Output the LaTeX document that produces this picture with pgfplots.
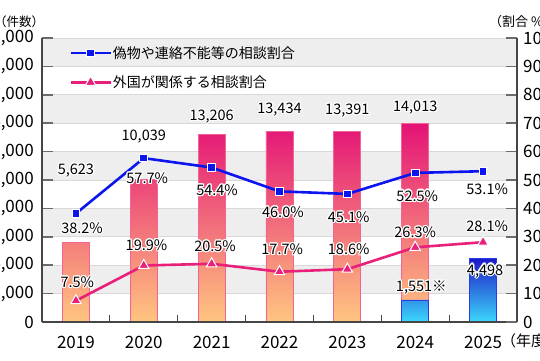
\documentclass[border=0pt]{standalone}
\usepackage{fontspec}
\setmainfont{Noto Sans CJK JP}
\usepackage{pgfplots}
\pgfplotsset{compat=1.18}
\usepackage[copies]{contour}
\contourlength{1.2pt}
\definecolor{pinkline}{RGB}{232,32,122}
\definecolor{blueline}{RGB}{12,20,240}
\definecolor{pinktop}{RGB}{228,18,118}
\definecolor{pinkbot}{RGB}{255,198,128}
\definecolor{pinkedge}{RGB}{242,100,150}
\definecolor{bluetop}{RGB}{30,25,200}
\definecolor{bluebot}{RGB}{60,215,250}
\definecolor{blueedge}{RGB}{40,60,230}
\definecolor{band}{RGB}{238,238,238}
\definecolor{bandline}{RGB}{216,216,216}
\definecolor{axisgray}{RGB}{70,70,70}
\newcommand{\tickfont}{\fontsize{17}{17}\selectfont}
\newcommand{\lblfont}{\fontsize{14.5}{14.5}\selectfont}
\newcommand{\legfont}{\fontsize{14}{14}\selectfont}
\newcommand{\lab}[1]{\contour{white}{#1}}
\begin{document}
\begin{tikzpicture}
\begin{axis}[
  at={(42pt,38pt)}, anchor=south west,
  scale only axis, width=475pt, height=284pt,
  xmin=-0.5, xmax=6.5, ymin=0, ymax=20000,
  axis x line*=bottom, axis y line*=left,
  axis line style={-, draw=axisgray, line width=1.6pt},
  axis on top,
  clip=false,
  ytick={0,2000,...,20000},
  scaled y ticks=false,
  yticklabel style={/pgf/number format/1000 sep={,}, anchor=east, inner sep=0pt, xshift=-8pt},
  /pgf/number format/assume math mode=true,
  xtick={0,...,6}, xticklabels={2019,2020,2021,2022,2023,2024,2025},
  minor xtick={0.5,1.5,...,5.5},
  xticklabel style={anchor=base, inner sep=0pt, yshift=-26pt},
  tick align=inside,
  major tick length=11pt, minor tick length=7pt,
  major x tick style={draw=none},
  minor x tick style={draw=axisgray, line width=1pt},
  major y tick style={draw=axisgray!80, line width=1.6pt},
  tick label style={font=\tickfont},
]
\fill[band] (axis cs:-0.5,2000) rectangle (axis cs:6.5,4000);
\fill[band] (axis cs:-0.5,6000) rectangle (axis cs:6.5,8000);
\fill[band] (axis cs:-0.5,10000) rectangle (axis cs:6.5,12000);
\fill[band] (axis cs:-0.5,14000) rectangle (axis cs:6.5,16000);
\fill[band] (axis cs:-0.5,18000) rectangle (axis cs:6.5,20000);
\pgfplotsinvokeforeach{2000,4000,6000,8000,10000,12000,14000,16000,18000,20000}{
  \draw[bandline, line width=0.8pt] (axis cs:-0.5,#1) -- (axis cs:6.5,#1);
}
\addplot[ybar, bar width=27pt, bar shift=0pt, draw=pinkedge, line width=0.8pt,
  top color=pinktop, bottom color=pinkbot]
  coordinates {(0,5623) (1,10039) (2,13206) (3,13434) (4,13391) (5,14013)};
\addplot[ybar, bar width=27pt, bar shift=0pt, draw=blueedge, line width=0.8pt,
  top color=bluetop, bottom color=bluebot]
  coordinates {(5,1551) (6,4498)};
\end{axis}
\begin{axis}[
  at={(42pt,38pt)}, anchor=south west,
  scale only axis, width=475pt, height=284pt,
  xmin=-0.5, xmax=6.5, ymin=0, ymax=100,
  axis x line=none, axis y line*=right,
  axis line style={-, draw=axisgray, line width=1.6pt},
  clip=false,
  ytick={0,10,...,100},
  yticklabel style={anchor=west, inner sep=0pt, xshift=6pt},
  /pgf/number format/assume math mode=true,
  tick align=inside, major tick length=11pt,
  major y tick style={draw=axisgray!80, line width=1.6pt},
  tick label style={font=\tickfont},
  legend style={at={(0.057,0.975)}, anchor=north west, draw=none, fill=none,
    font=\legfont, inner sep=0pt, row sep=14pt,
    nodes={inner sep=1pt}},
  legend cell align=left,
  legend image code/.code={\draw[#1, mark repeat=2, mark phase=2] plot coordinates {(0pt,0pt) (20pt,0pt) (40pt,0pt)};},
  /tikz/every even column/.append style={column sep=7pt},
]
\addplot[blueline, line width=2.6pt, mark=square*, mark size=3.8pt,
  mark options={fill=blueline, draw=white, line width=1pt}]
  coordinates {(0,38.2) (1,57.7) (2,54.4) (3,46.0) (4,45.1) (5,52.5) (6,53.1)};
\addlegendentry{偽物や連絡不能等の相談割合}
\addplot[pinkline, line width=2.6pt, mark=triangle*, mark size=6pt,
  mark options={fill=pinkline, draw=white, line width=1pt}]
  coordinates {(0,7.5) (1,19.9) (2,20.5) (3,17.7) (4,18.6) (5,26.3) (6,28.1)};
\addlegendentry{外国が関係する相談割合}
% bar value labels
\node[font=\lblfont] at (axis cs:0,53.0) {\lab{5,623}};
\node[font=\lblfont] at (axis cs:1,65.0) {\lab{10,039}};
\node[font=\lblfont] at (axis cs:2,72.1) {\lab{13,206}};
\node[font=\lblfont] at (axis cs:3,74.6) {\lab{13,434}};
\node[font=\lblfont] at (axis cs:4,74.2) {\lab{13,391}};
\node[font=\lblfont] at (axis cs:5,75.3) {\lab{14,013}};
\node[font=\lblfont] at (axis cs:5.09,12.0) {\lab{1,551※}};
\node[font=\lblfont] at (axis cs:6.03,17.7) {\lab{4,498}};
% blue line labels
\node[font=\lblfont] at (axis cs:0.09,32.9) {\lab{38.2\%}};
\node[font=\lblfont] at (axis cs:1.05,50.5) {\lab{57.7\%}};
\node[font=\lblfont] at (axis cs:2.08,46.3) {\lab{54.4\%}};
\node[font=\lblfont] at (axis cs:3.05,38.5) {\lab{46.0\%}};
\node[font=\lblfont] at (axis cs:4.02,36.7) {\lab{45.1\%}};
\node[font=\lblfont] at (axis cs:5.03,44.2) {\lab{52.5\%}};
\node[font=\lblfont] at (axis cs:6.06,46.6) {\lab{53.1\%}};
% pink line labels
\node[font=\lblfont] at (axis cs:0.02,13.8) {\lab{7.5\%}};
\node[font=\lblfont] at (axis cs:1.04,26.9) {\lab{19.9\%}};
\node[font=\lblfont] at (axis cs:2.05,26.5) {\lab{20.5\%}};
\node[font=\lblfont] at (axis cs:3.04,25.4) {\lab{17.7\%}};
\node[font=\lblfont] at (axis cs:4.02,25.4) {\lab{18.6\%}};
\node[font=\lblfont] at (axis cs:5.0,31.4) {\lab{26.3\%}};
\node[font=\lblfont] at (axis cs:6.06,33.6) {\lab{28.1\%}};
\end{axis}
\node[anchor=west, inner sep=0pt, font=\fontsize{12.5}{12.5}\selectfont] at (-6pt,338pt) {（件数）};
\node[anchor=west, inner sep=0pt, font=\fontsize{13}{13}\selectfont] at (489pt,338pt) {（割合 \%）};
\node[anchor=west, inner sep=0pt, font=\fontsize{15}{15}\selectfont] at (501pt,19pt) {（年度）};
\pgfresetboundingbox
\useasboundingbox (0pt,0pt) rectangle (540pt,360pt);
\end{tikzpicture}
\end{document}
